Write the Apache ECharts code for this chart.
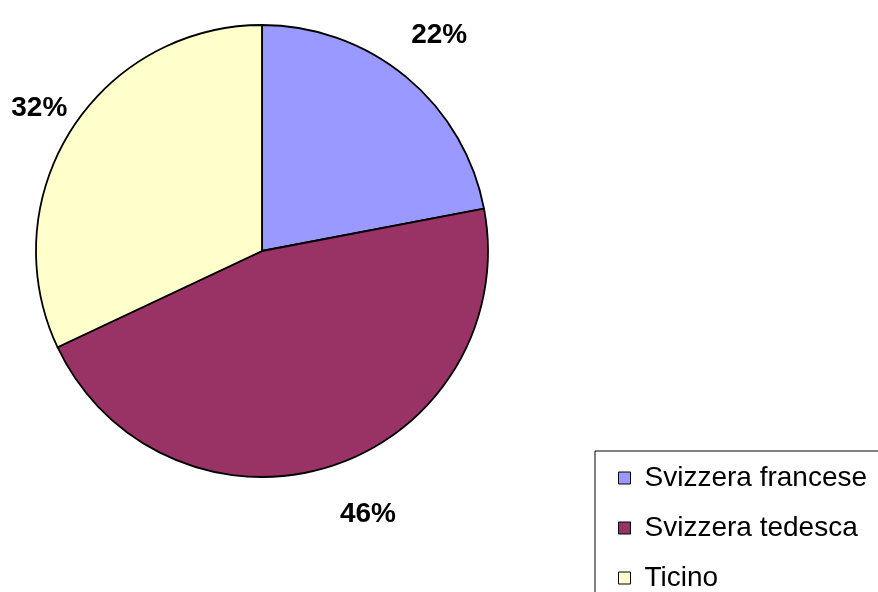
<!DOCTYPE html>
<html>
<head>
<meta charset="utf-8">
<script src="https://cdn.jsdelivr.net/npm/echarts@6/dist/echarts.min.js"></script>
<style>
	html, body { margin: 0; padding: 0; background: #fff; }
	#chart { width: 878px; height: 592px; }
</style>
</head>
<body>
<div id="chart"></div>
<script>
// dati
var regions = ['Svizzera francese', 'Svizzera tedesca', 'Ticino'];
var shares = [22, 46, 32];
var colors = ['#9999FF', '#993366', '#FFFFCC'];

/** --------grafico a torta ------ */
function initChart() {
	var chart = echarts.init(document.getElementById('chart'));
	var pieData = [];
	for (var i = 0; i < regions.length; i++) {
		pieData.push({
			name: regions[i],
			value: shares[i],
			itemStyle: { color: colors[i] }
		});
	}
	var option = {
		animation: false,
		textStyle: { fontFamily: 'Liberation Sans, Arial, sans-serif' },
		legend: {
			orient: 'vertical',
			left: 595,
			top: 451,
			height: 300,
			padding: [13, 40, 40, 23],
			itemGap: 22,
			itemWidth: 12,
			itemHeight: 12,
			icon: 'rect',
			borderColor: '#000',
			borderWidth: 1,
			itemStyle: { borderColor: '#000', borderWidth: 1 },
			textStyle: {
				fontSize: 28,
				lineHeight: 28,
				color: '#000',
				padding: [0, 0, 0, 9],
				fontFamily: 'Liberation Sans, Arial, sans-serif'
			},
			data: regions
		},
		series: [{
			// torta
			type: 'pie',
			center: [262, 251],
			radius: 226,
			startAngle: 90,
			clockwise: true,
			silent: true,
			label: { show: false },
			labelLine: { show: false },
			itemStyle: { borderColor: '#000', borderWidth: 1.8 },
			data: pieData
		}, {
			// etichette percentuali
			type: 'pie',
			center: [262, 251],
			radius: [262, 288],
			startAngle: 90,
			clockwise: true,
			silent: true,
			legendHoverLink: false,
			itemStyle: { color: 'rgba(0,0,0,0)', borderWidth: 0 },
			label: {
				show: true,
				position: 'inside',
				formatter: '{c}%',
				fontSize: 28,
				fontWeight: 'bold',
				color: '#000',
				fontFamily: 'Liberation Sans, Arial, sans-serif'
			},
			labelLine: { show: false },
			data: regions.map(function (r, i) { return { name: r + ' ', value: shares[i] }; })
		}]
	};
	chart.setOption(option);
	// la torta originale e' leggermente ovale: piccolo spostamento delle etichette
	chart.setOption({
		series: [{}, {
			labelLayout: function (params) {
				if (params.dataIndex == 1) {
					return { dx: 20, dy: -1 };
				}
				if (params.dataIndex == 2) {
					return { dx: 12, dy: 6 };
				}
				return { dy: -2 };
			}
		}]
	});
}

initChart();
</script>
</body>
</html>
